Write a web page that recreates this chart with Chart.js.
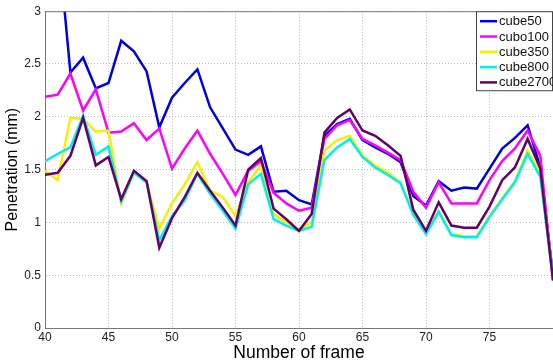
<!DOCTYPE html>
<html>
<head>
<meta charset="utf-8">
<script src="https://cdn.jsdelivr.net/npm/chart.js@4/dist/chart.umd.min.js"></script>
<style>
  html, body { margin: 0; padding: 0; background: #fff; }
  canvas { display: block; }
</style>
</head>
<body>
<canvas id="chart" width="553" height="364"></canvas>
<script>
// frames 40..80
const frames = [40,41,42,43,44,45,46,47,48,49,50,51,52,53,54,55,56,57,58,59,60,
  61,62,63,64,65,66,67,68,69,70,71,72,73,74,75,76,77,78,79,80];

const cube50 = [4.5,3.7,2.42,2.56,2.27,2.32,2.72,2.62,2.43,1.90,
  2.18,2.32,2.45,2.09,1.89,1.69,1.64,1.72,1.29,1.30,
  1.21,1.17,1.82,1.93,1.98,1.78,1.71,1.65,1.57,1.25,
  1.16,1.39,1.30,1.33,1.32,1.51,1.70,1.80,1.92,1.52,0.50];
const cubo100 = [2.19,2.21,2.41,2.06,2.26,1.85,1.86,1.94,1.78,1.89,
  1.51,1.70,1.87,1.65,1.46,1.26,1.49,1.58,1.28,1.18,
  1.11,1.14,1.79,1.92,1.97,1.79,1.73,1.66,1.59,1.29,
  1.14,1.38,1.18,1.18,1.18,1.40,1.58,1.70,1.87,1.63,0.45];
const cube350 = [1.49,1.40,1.99,1.98,1.86,1.87,1.18,1.47,1.38,0.94,
  1.18,1.36,1.57,1.30,1.24,1.06,1.38,1.54,1.08,1.00,
  0.93,1.00,1.68,1.78,1.82,1.63,1.54,1.47,1.38,1.09,
  0.90,1.11,0.89,0.87,0.87,1.06,1.23,1.39,1.68,1.47,0.47];
const cube800 = [1.58,1.65,1.71,2.01,1.64,1.72,1.20,1.47,1.38,0.83,
  1.06,1.21,1.46,1.27,1.11,0.94,1.36,1.46,1.03,0.97,
  0.92,0.96,1.59,1.71,1.79,1.62,1.52,1.45,1.37,1.07,
  0.89,1.10,0.88,0.86,0.86,1.05,1.22,1.38,1.65,1.43,0.48];
const cube2700 = [1.45,1.47,1.63,1.99,1.54,1.62,1.22,1.49,1.39,0.76,
  1.04,1.24,1.47,1.30,1.14,0.97,1.50,1.61,1.13,1.03,
  0.92,1.08,1.85,1.99,2.07,1.87,1.82,1.73,1.63,1.12,
  0.92,1.19,0.97,0.95,0.95,1.15,1.40,1.52,1.79,1.51,0.45];

const seriesNames = ['cube50', 'cubo100', 'cube350', 'cube800', 'cube2700'];
const seriesValues = [cube50, cubo100, cube350, cube800, cube2700];
const seriesColors = ['#0000e6', '#ff00ff', '#f2f200', '#00eeee', '#660066'];

const xTicks = [40, 45, 50, 55, 60, 65, 70, 75, 80];
const yTicks = [0, 0.5, 1, 1.5, 2, 2.5, 3];

const FONT = '"Liberation Sans", Arial, sans-serif';

const datasets = seriesValues.map((vals, i) => ({
  label: seriesNames[i],
  data: vals.map((v, j) => ({ x: frames[j], y: v })),
  borderColor: seriesColors[i],
  backgroundColor: seriesColors[i],
  borderWidth: 2.5,
  pointRadius: 0,
  tension: 0,
  order: seriesValues.length - i
}));

// matlab-style legend box in the top right corner
const boxLegend = {
  id: 'boxLegend',
  afterDraw(chart) {
    const ctx = chart.ctx;
    const area = chart.chartArea;
    const w = 77, h = 80;
    const x0 = area.right - w, y0 = area.top;
    ctx.save();
    ctx.fillStyle = '#fff';
    ctx.fillRect(x0, y0, w, h);
    ctx.strokeStyle = '#444';
    ctx.lineWidth = 1;
    ctx.strokeRect(x0 + 0.5, y0 + 0.5, w - 1, h - 1);
    ctx.font = '13px ' + FONT;
    ctx.textBaseline = 'middle';
    seriesNames.forEach((name, i) => {
      const y = y0 + 10 + i * 15.3;
      ctx.strokeStyle = seriesColors[i];
      ctx.lineWidth = 2.5;
      ctx.beginPath();
      ctx.moveTo(x0 + 4, y);
      ctx.lineTo(x0 + 21, y);
      ctx.stroke();
      ctx.fillStyle = '#111';
      ctx.fillText(name, x0 + 23, y + 0.5);
    });
    ctx.restore();
  }
};

const topBorder = {
  id: 'topBorder',
  afterDraw(chart) {
    const a = chart.chartArea, ctx = chart.ctx;
    ctx.save();
    ctx.strokeStyle = '#777';
    ctx.lineWidth = 1;
    ctx.beginPath();
    ctx.moveTo(a.left, a.top + 0.5);
    ctx.lineTo(a.right, a.top + 0.5);
    ctx.stroke();
    ctx.restore();
  }
};

new Chart(document.getElementById('chart'), {
  type: 'line',
  data: { datasets },
  plugins: [topBorder, boxLegend],
  options: {
    responsive: false,
    maintainAspectRatio: false,
    devicePixelRatio: 1,
    animation: false,
    layout: { padding: { top: 10, right: 0, left: 0, bottom: 0 } },
    plugins: {
      legend: { display: false },
      tooltip: { enabled: false }
    },
    scales: {
      x: {
        type: 'linear',
        min: 40,
        max: 80,
        afterFit: s => { s.height = 36; s.paddingRight = 0; s.paddingLeft = 0; },
        afterBuildTicks: s => { s.ticks = xTicks.map(v => ({ value: v })); },
        ticks: {
          color: '#222',
          font: { family: FONT, size: 12 },
          padding: 2,
          maxRotation: 0,
          callback: v => (v === 80 ? '' : String(v))
        },
        grid: { color: '#bdbdbd', drawTicks: false },
        border: { color: '#777', dash: [1, 2] },
        title: {
          display: true,
          text: 'Number of frame',
          color: '#000',
          font: { family: FONT, size: 17.5 },
          padding: { top: 0, bottom: 0 }
        }
      },
      y: {
        min: 0,
        max: 3,
        afterFit: s => { s.width = 45; },
        afterBuildTicks: s => { s.ticks = yTicks.map(v => ({ value: v })); },
        ticks: {
          color: '#222',
          font: { family: FONT, size: 12 },
          padding: 4,
          callback: v => String(v)
        },
        grid: { color: '#bdbdbd', drawTicks: false },
        border: { color: '#777', dash: [1, 2] },
        title: {
          display: true,
          text: 'Penetration (mm)',
          color: '#000',
          font: { family: FONT, size: 16 },
          padding: { top: 3, bottom: 0 }
        }
      }
    }
  }
});
</script>
</body>
</html>
